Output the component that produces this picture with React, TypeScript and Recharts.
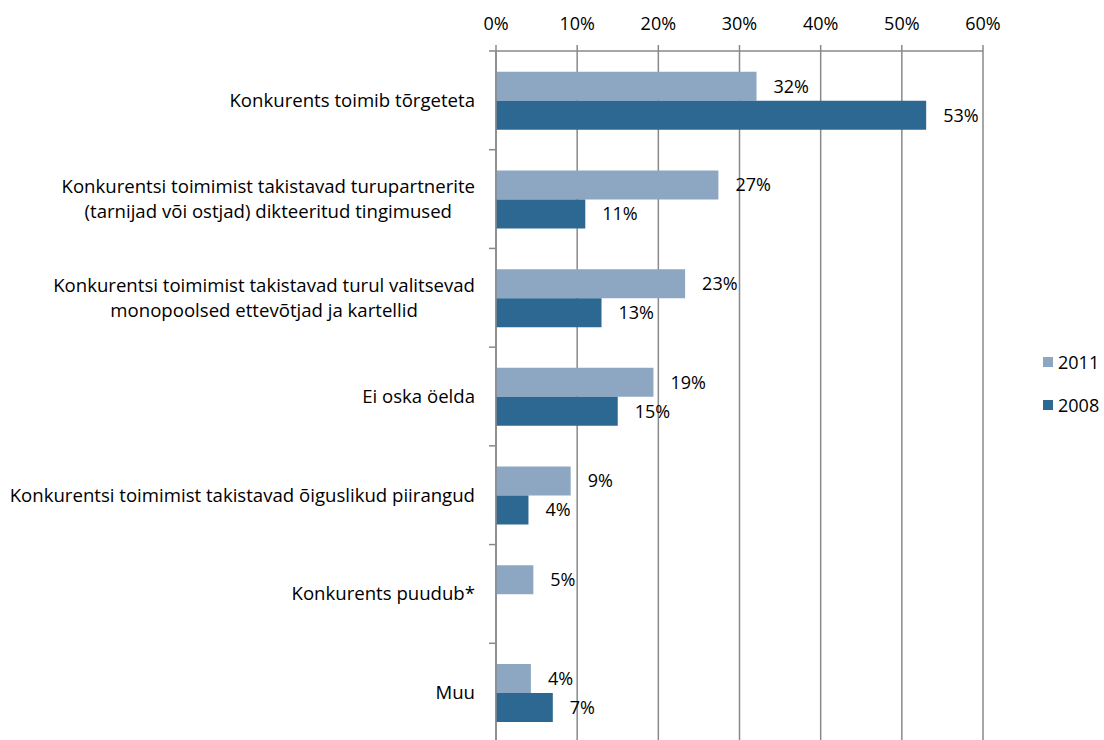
import React from "react";
import { BarChart, Bar, XAxis, YAxis, CartesianGrid, LabelList } from "recharts";

const categories = [
  "Konkurents toimib tõrgeteta",
  "Konkurentsi toimimist takistavad turupartnerite\n(tarnijad või ostjad) dikteeritud tingimused",
  "Konkurentsi toimimist takistavad turul valitsevad\nmonopoolsed ettevõtjad ja kartellid",
  "Ei oska öelda",
  "Konkurentsi toimimist takistavad õiguslikud piirangud",
  "Konkurents puudub*",
  "Muu",
];
const values2011 = [32.1, 27.4, 23.3, 19.4, 9.2, 4.6, 4.3];
const values2008: (number | null)[] = [53.0, 11.0, 13.0, 15.0, 4.0, null, 7.0];
const xTicks = [0, 10, 20, 30, 40, 50, 60];
const seriesNames = ["2011", "2008"];
const seriesColors = ["#8DA6C2", "#2D6893"];

const data = categories.map((name, i) => ({
  name,
  v2011: values2011[i],
  v2008: values2008[i],
}));

const FONT = "Open Sans";
const FS = 18;
const CAT_FS = 18.6;
const W = 1104;
const H = 760;
const M = { top: 0, right: 121, bottom: 18, left: 0 };
const XAXIS_H = 51;
const YAXIS_W = 496;
const PLOT_H = H - M.top - M.bottom - XAXIS_H;
const BAND = PLOT_H / categories.length;
const AXIS_COLOR = "#898989";

let ctx: CanvasRenderingContext2D | null = null;
function measure(t: string): number {
  if (!ctx) {
    const c = document.createElement("canvas");
    ctx = c.getContext("2d");
  }
  if (!ctx) return t.length * CAT_FS * 0.5;
  ctx.font = `${CAT_FS}px "${FONT}"`;
  return ctx.measureText(t).width;
}

const CategoryTick = (props: any) => {
  const { y, payload, index } = props;
  const lines = String(payload.value).split("\n");
  const maxW = Math.max(...lines.map(measure));
  const right = YAXIS_W - 21;
  const cx = right - maxW / 2;
  const LH = 25;
  const axisX = M.left + YAXIS_W;
  return (
    <g>
      <line x1={axisX - 7} x2={axisX} y1={y - BAND / 2} y2={y - BAND / 2} stroke={AXIS_COLOR} strokeWidth={1.5} />
      {index === categories.length - 1 && (
        <line x1={axisX - 7} x2={axisX} y1={y + BAND / 2} y2={y + BAND / 2} stroke={AXIS_COLOR} strokeWidth={1.5} />
      )}
      <text
        x={cx}
        y={y - ((lines.length - 1) * LH) / 2}
        textAnchor="middle"
        fill="#000"
        fontSize={CAT_FS}
        fontFamily={FONT}
      >
        {lines.map((l, i) => (
          <tspan key={i} x={cx} dy={i === 0 ? "0.35em" : LH}>
            {l}
          </tspan>
        ))}
      </text>
    </g>
  );
};

const fmt = (v: any) => (v == null ? "" : `${Math.round(Number(v))}%`);

export default function App() {
  return (
    <div style={{ position: "fixed", top: 0, left: 0, width: W, height: 740, overflow: "hidden", background: "#fff" }}>
      <BarChart
        width={W}
        height={H}
        data={data}
        layout="vertical"
        margin={M}
        barGap={0}
        barCategoryGap="21%"
      >
        <CartesianGrid horizontal={false} vertical={true} stroke={AXIS_COLOR} strokeWidth={1.5} />
        <XAxis
          type="number"
          orientation="top"
          domain={[0, 60]}
          ticks={xTicks}
          height={XAXIS_H}
          tickFormatter={(v: number) => `${v}%`}
          tickSize={6}
          tickMargin={15}
          axisLine={{ stroke: AXIS_COLOR, strokeWidth: 1.5 }}
          tickLine={{ stroke: AXIS_COLOR, strokeWidth: 1.5 }}
          tick={{ fill: "#000", fontSize: FS, fontFamily: FONT }}
          interval={0}
        />
        <YAxis
          type="category"
          dataKey="name"
          width={YAXIS_W}
          axisLine={{ stroke: AXIS_COLOR, strokeWidth: 1.5 }}
          tickLine={false}
          tick={<CategoryTick />}
          interval={0}
        />
        <Bar dataKey="v2011" name={seriesNames[0]} fill={seriesColors[0]} isAnimationActive={false}>
          <LabelList dataKey="v2011" position="right" offset={17} formatter={fmt} fill="#000" fontSize={FS} fontFamily={FONT} />
        </Bar>
        <Bar dataKey="v2008" name={seriesNames[1]} fill={seriesColors[1]} isAnimationActive={false}>
          <LabelList dataKey="v2008" position="right" offset={17} formatter={fmt} fill="#000" fontSize={FS} fontFamily={FONT} />
        </Bar>
      </BarChart>
      <div style={{ position: "absolute", top: 351, left: 1043, fontFamily: FONT, fontSize: FS, color: "#000" }}>
        {seriesNames.map((n, i) => (
          <div key={n} style={{ display: "flex", alignItems: "center", height: 22, marginBottom: i === 0 ? 21 : 0 }}>
            <span style={{ display: "inline-block", width: 10, height: 10, background: seriesColors[i], marginRight: 5 }} />
            <span>{n}</span>
          </div>
        ))}
      </div>
    </div>
  );
}
